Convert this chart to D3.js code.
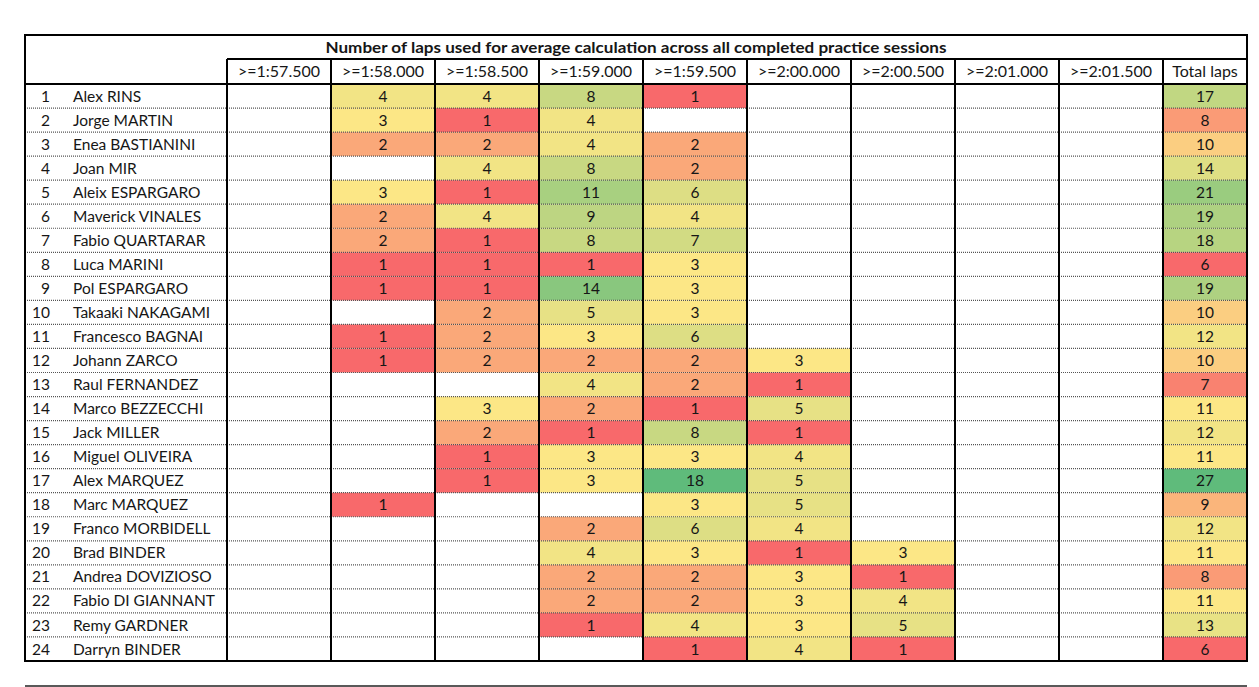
<!DOCTYPE html>
<html>
<head>
<meta charset="utf-8">
<script src="https://cdn.jsdelivr.net/npm/d3@7"></script>
<style>
  body { margin: 0; background: #fff; }
  text { font-family: Lato, "Open Sans", sans-serif; fill: #161616; }
</style>
</head>
<body>
<script>
// lap count per pace bin, per rider (null = no laps in that bin)

var title = "Number of laps used for average calculation across all completed practice sessions"

var bins = [">=1:57.500", ">=1:58.000", ">=1:58.500", ">=1:59.000", ">=1:59.500",
            ">=2:00.000", ">=2:00.500", ">=2:01.000", ">=2:01.500"]

var totalLabel = "Total laps"

// names as they show in the sheet (long ones are cut by the cell)
var riders = ["Alex RINS", "Jorge MARTIN", "Enea BASTIANINI", "Joan MIR", "Aleix ESPARGARO",
              "Maverick VINALES", "Fabio QUARTARAR", "Luca MARINI", "Pol ESPARGARO", "Takaaki NAKAGAMI",
              "Francesco BAGNAI", "Johann ZARCO", "Raul FERNANDEZ", "Marco BEZZECCHI", "Jack MILLER",
              "Miguel OLIVEIRA", "Alex MARQUEZ", "Marc MARQUEZ", "Franco MORBIDELL", "Brad BINDER",
              "Andrea DOVIZIOSO", "Fabio DI GIANNANT", "Remy GARDNER", "Darryn BINDER"]

var lapCounts = [
    [null, 4, 4, 8, 1, null, null, null, null],
    [null, 3, 1, 4, null, null, null, null, null],
    [null, 2, 2, 4, 2, null, null, null, null],
    [null, null, 4, 8, 2, null, null, null, null],
    [null, 3, 1, 11, 6, null, null, null, null],
    [null, 2, 4, 9, 4, null, null, null, null],
    [null, 2, 1, 8, 7, null, null, null, null],
    [null, 1, 1, 1, 3, null, null, null, null],
    [null, 1, 1, 14, 3, null, null, null, null],
    [null, null, 2, 5, 3, null, null, null, null],
    [null, 1, 2, 3, 6, null, null, null, null],
    [null, 1, 2, 2, 2, 3, null, null, null],
    [null, null, null, 4, 2, 1, null, null, null],
    [null, null, 3, 2, 1, 5, null, null, null],
    [null, null, 2, 1, 8, 1, null, null, null],
    [null, null, 1, 3, 3, 4, null, null, null],
    [null, null, 1, 3, 18, 5, null, null, null],
    [null, 1, null, null, 3, 5, null, null, null],
    [null, null, null, 2, 6, 4, null, null, null],
    [null, null, null, 4, 3, 1, 3, null, null],
    [null, null, null, 2, 2, 3, 1, null, null],
    [null, null, null, 2, 2, 3, 4, null, null],
    [null, null, null, 1, 4, 3, 5, null, null],
    [null, null, null, null, 1, 4, 1, null, null]
]

var totals = [17, 8, 10, 14, 21, 19, 18, 6, 19, 10, 12, 10, 7, 11, 12, 11, 27, 9, 12, 11, 8, 11, 13, 6]


var screen = {width: 1259, height: 687}
var box = {left: 25, right: 1247, top: 35, titleBottom: 59, headBottom: 84, bottom: 661}
var nameRight = 227
var totalLeft = 1163

var svg = d3.select("body")
    .append("svg")
    .attr("width", screen.width)
    .attr("height", screen.height)

var xScale = d3.scaleBand()
    .domain(bins)
    .range([nameRight, totalLeft])

var yScale = d3.scaleBand()
    .domain(riders)
    .range([box.headBottom, box.bottom])

// excel style 3 colour scale: min red, median yellow, max green
var cellValues = lapCounts.flat().filter(function(v) {return v != null})
var cScale = d3.scaleLinear()
    .domain([d3.min(cellValues), d3.median(cellValues), d3.max(cellValues)])
    .range(["#F8696B", "#FCE786", "#5FBB7B"])

var tScale = d3.scaleLinear()
    .domain([d3.min(totals), d3.median(totals), d3.max(totals)])
    .range(["#F8696B", "#FCE786", "#5FBB7B"])

var cells = []
lapCounts.forEach(function(row, i) {
    row.forEach(function(v, j) {
        if (v != null) cells.push({rider: riders[i], bin: bins[j], value: v})
    })
})

// coloured cells
svg.append("g")
    .attr("id", "cells")
    .selectAll("rect")
    .data(cells)
    .enter()
    .append("rect")
    .attr("x", function(d) {return xScale(d.bin)})
    .attr("y", function(d) {return yScale(d.rider)})
    .attr("width", xScale.bandwidth())
    .attr("height", yScale.bandwidth())
    .attr("fill", function(d) {return cScale(d.value)})

svg.append("g")
    .attr("id", "totals")
    .selectAll("rect")
    .data(totals)
    .enter()
    .append("rect")
    .attr("x", totalLeft)
    .attr("y", function(d, i) {return yScale(riders[i])})
    .attr("width", box.right - totalLeft)
    .attr("height", yScale.bandwidth())
    .attr("fill", function(d) {return tScale(d)})

// dotted row separators
svg.append("g")
    .selectAll("line")
    .data(riders.slice(1))
    .enter()
    .append("line")
    .attr("x1", box.left)
    .attr("x2", box.right)
    .attr("y1", function(d) {return yScale(d)})
    .attr("y2", function(d) {return yScale(d)})
    .attr("stroke", "#555")
    .attr("stroke-width", 1.2)
    .attr("stroke-dasharray", "1,1")

// solid grid lines
var colEdges = bins.map(function(b) {return xScale(b)}).concat([totalLeft])
svg.append("g")
    .selectAll("line")
    .data(colEdges)
    .enter()
    .append("line")
    .attr("x1", function(d) {return d})
    .attr("x2", function(d) {return d})
    .attr("y1", box.titleBottom)
    .attr("y2", box.bottom)
    .attr("stroke", "#000")
    .attr("stroke-width", 2)

svg.append("line")
    .attr("x1", nameRight).attr("x2", box.right)
    .attr("y1", box.titleBottom).attr("y2", box.titleBottom)
    .attr("stroke", "#000").attr("stroke-width", 2)

svg.append("line")
    .attr("x1", box.left).attr("x2", box.right)
    .attr("y1", box.headBottom).attr("y2", box.headBottom)
    .attr("stroke", "#000").attr("stroke-width", 2)

svg.append("rect")
    .attr("x", box.left)
    .attr("y", box.top)
    .attr("width", box.right - box.left)
    .attr("height", box.bottom - box.top)
    .attr("fill", "none")
    .attr("stroke", "#000")
    .attr("stroke-width", 2)

// line under the table
svg.append("line")
    .attr("x1", box.left).attr("x2", box.right)
    .attr("y1", 686).attr("y2", 686)
    .attr("stroke", "#222").attr("stroke-width", 1.5)

// texts
svg.append("text")
    .attr("x", (box.left + box.right) / 2)
    .attr("y", (box.top + box.titleBottom) / 2)
    .attr("dy", "0.36em")
    .style("text-anchor", "middle")
    .style("font-weight", "bold")
    .style("font-size", "15.5px")
    .attr("textLength", 621)
    .attr("lengthAdjust", "spacingAndGlyphs")
    .text(title)

svg.append("g")
    .selectAll("text")
    .data(bins)
    .enter()
    .append("text")
    .attr("x", function(d) {return xScale(d) + xScale.bandwidth() / 2})
    .attr("y", (box.titleBottom + box.headBottom) / 2)
    .attr("dy", "0.36em")
    .style("text-anchor", "middle")
    .style("font-size", "16px")
    .text(function(d) {return d})

svg.append("text")
    .attr("x", (totalLeft + box.right) / 2)
    .attr("y", (box.titleBottom + box.headBottom) / 2)
    .attr("dy", "0.36em")
    .style("text-anchor", "middle")
    .style("font-size", "16px")
    .text(totalLabel)

var rowMid = function(name) {return yScale(name) + yScale.bandwidth() / 2}

svg.append("g")
    .selectAll("text")
    .data(riders)
    .enter()
    .append("text")
    .attr("x", 50)
    .attr("y", function(d) {return rowMid(d)})
    .attr("dy", "0.36em")
    .style("text-anchor", "end")
    .style("font-size", "15.5px")
    .text(function(d, i) {return i + 1})

svg.append("g")
    .selectAll("text")
    .data(riders)
    .enter()
    .append("text")
    .attr("x", 73)
    .attr("y", function(d) {return rowMid(d)})
    .attr("dy", "0.36em")
    .style("font-size", "15.5px")
    .text(function(d) {return d})

svg.append("g")
    .selectAll("text")
    .data(cells)
    .enter()
    .append("text")
    .attr("x", function(d) {return xScale(d.bin) + xScale.bandwidth() / 2})
    .attr("y", function(d) {return rowMid(d.rider)})
    .attr("dy", "0.36em")
    .style("text-anchor", "middle")
    .style("font-size", "15.5px")
    .text(function(d) {return d.value})

svg.append("g")
    .selectAll("text")
    .data(totals)
    .enter()
    .append("text")
    .attr("x", (totalLeft + box.right) / 2)
    .attr("y", function(d, i) {return rowMid(riders[i])})
    .attr("dy", "0.36em")
    .style("text-anchor", "middle")
    .style("font-size", "15.5px")
    .text(function(d) {return d})
</script>
</body>
</html>
